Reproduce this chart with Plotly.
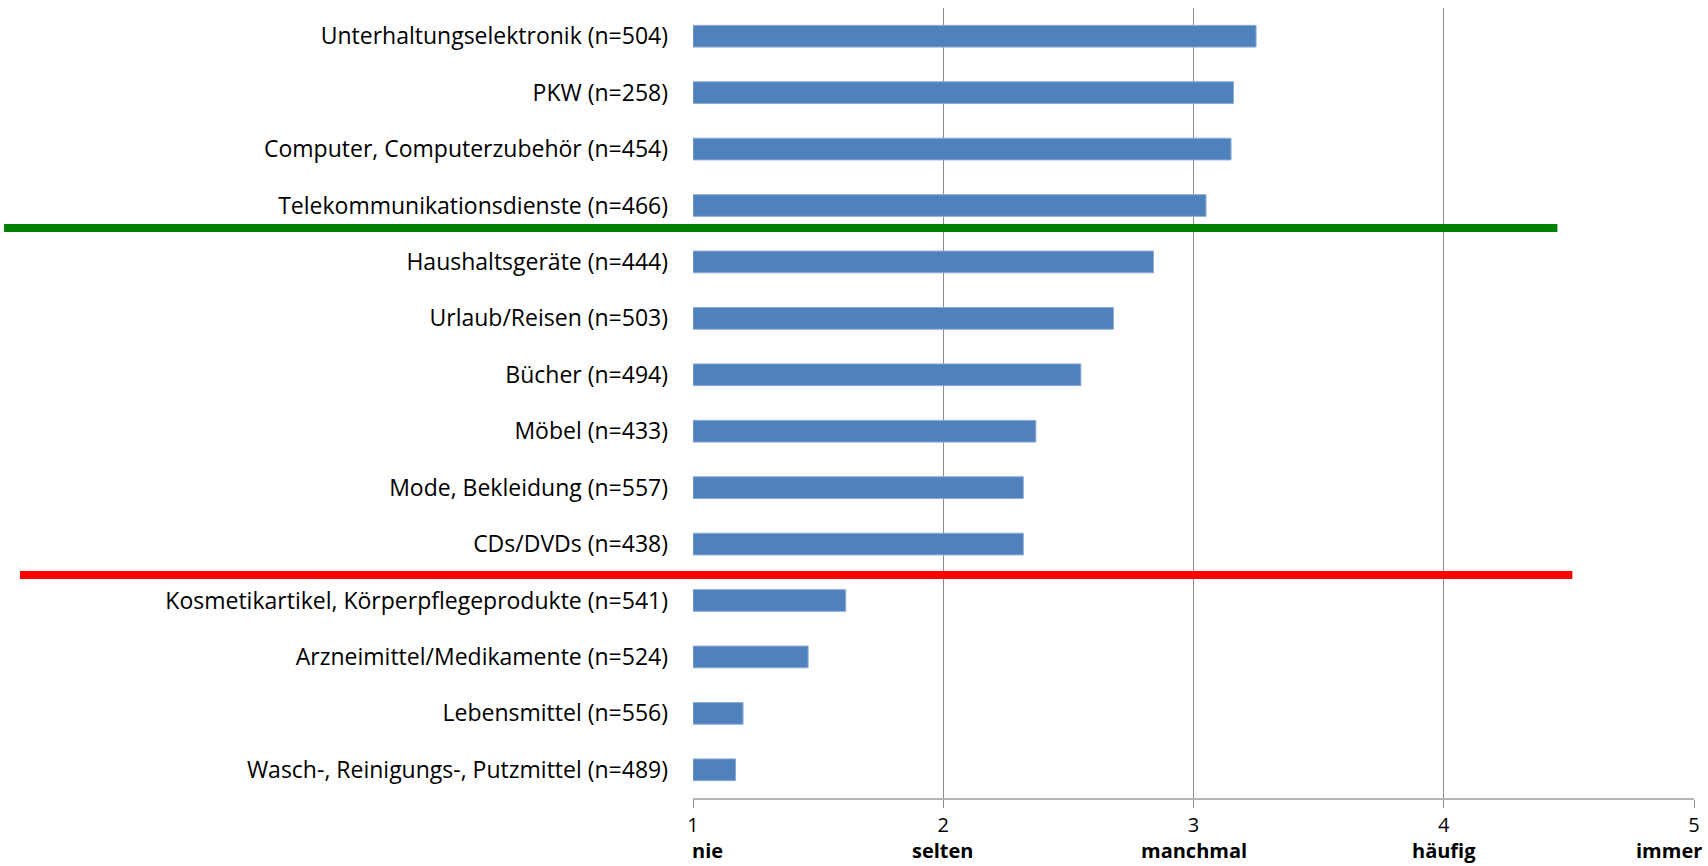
import plotly.graph_objects as go

# Product categories (top to bottom) and mean frequency scores on a 1..5 scale
categories = [
    "Unterhaltungselektronik (n=504)",
    "PKW (n=258)",
    "Computer, Computerzubehör (n=454)",
    "Telekommunikationsdienste (n=466)",
    "Haushaltsgeräte (n=444)",
    "Urlaub/Reisen (n=503)",
    "Bücher (n=494)",
    "Möbel (n=433)",
    "Mode, Bekleidung (n=557)",
    "CDs/DVDs (n=438)",
    "Kosmetikartikel, Körperpflegeprodukte (n=541)",
    "Arzneimittel/Medikamente (n=524)",
    "Lebensmittel (n=556)",
    "Wasch-, Reinigungs-, Putzmittel (n=489)",
]
values = [3.25, 3.16, 3.15, 3.05, 2.84, 2.68, 2.55, 2.37, 2.32, 2.32, 1.61, 1.46, 1.20, 1.17]

scale_ticks = [1, 2, 3, 4, 5]
scale_numbers = ["1", "2", "3", "4", "5"]
scale_words = ["nie", "selten", "manchmal", "häufig", "immer"]

W, H = 1708, 866
L, R, T, B = 693, 11, 8, 68
plot_w = W - L - R
plot_h = H - T - B

FONT = "Open Sans"


def px_to_paper_x(px):
    return (px - L) / plot_w


def px_to_paper_y(py):
    return 1 - (py - T) / plot_h


fig = go.Figure()
fig.add_trace(go.Bar(
    y=categories,
    x=[v - 1 for v in values],
    base=1,
    orientation="h",
    marker=dict(color="#4f81bd", line=dict(color="#8eaad6", width=1)),
    width=0.385,
    hoverinfo="skip",
))

# Bold verbal anchors below the numeric scale
anchors = []
for val, word in zip(scale_ticks, scale_words):
    xanchor = "center"
    if val == scale_ticks[0]:
        xanchor = "left"
    elif val == scale_ticks[-1]:
        xanchor = "right"
    anchors.append(dict(
        x=val, xref="x", y=px_to_paper_y(851), yref="paper",
        text=f"<b>{word}</b>", showarrow=False, xanchor=xanchor, yanchor="middle",
        xshift=-3 if xanchor == "left" else (10 if xanchor == "right" else 0),
        font=dict(family=FONT, size=20, color="#000000"),
    ))

anchors.append(dict(
    x=px_to_paper_x(96), xref="paper", y=px_to_paper_y(859), yref="paper",
    text="<i>Erhebungszeitraum: Dezember 2014</i>", showarrow=False,
    xanchor="left", yanchor="top",
    font=dict(family=FONT, size=16, color="#a6a6a6"),
))

# Separator lines between the frequency groups
shapes = [
    dict(type="line", xref="paper", yref="paper",
         x0=px_to_paper_x(2), x1=px_to_paper_x(1560),
         y0=px_to_paper_y(228), y1=px_to_paper_y(228),
         line=dict(color="#008000", width=8)),
    dict(type="line", xref="paper", yref="paper",
         x0=px_to_paper_x(18), x1=px_to_paper_x(1575),
         y0=px_to_paper_y(575), y1=px_to_paper_y(575),
         line=dict(color="#ff0000", width=8)),
]

fig.update_layout(
    width=W, height=H,
    margin=dict(l=L, r=R, t=T, b=B, pad=0),
    paper_bgcolor="white", plot_bgcolor="white",
    showlegend=False,
    font=dict(family=FONT, size=21, color="#000000"),
    annotations=anchors,
    shapes=shapes,
    xaxis=dict(
        range=[1, 5], tickvals=scale_ticks, ticktext=scale_numbers,
        showgrid=True, gridcolor="#8c8c8c", gridwidth=1,
        showline=True, linecolor="#b4b4b4", linewidth=2,
        ticks="outside", ticklen=8, tickcolor="#8c8c8c", tickwidth=1,
        tickfont=dict(family="Liberation Sans Narrow, " + FONT, size=20, color="#000000"),
        zeroline=False, fixedrange=True,
    ),
    yaxis=dict(
        type="category", categoryorder="array", categoryarray=categories,
        range=[len(categories) - 0.5, -0.5],
        showgrid=False, showline=False, zeroline=False,
        ticks="", ticklabelstandoff=24,
        tickfont=dict(family=FONT, size=23, color="#000000"),
        fixedrange=True,
    ),
)

fig.write_html("out.html")
